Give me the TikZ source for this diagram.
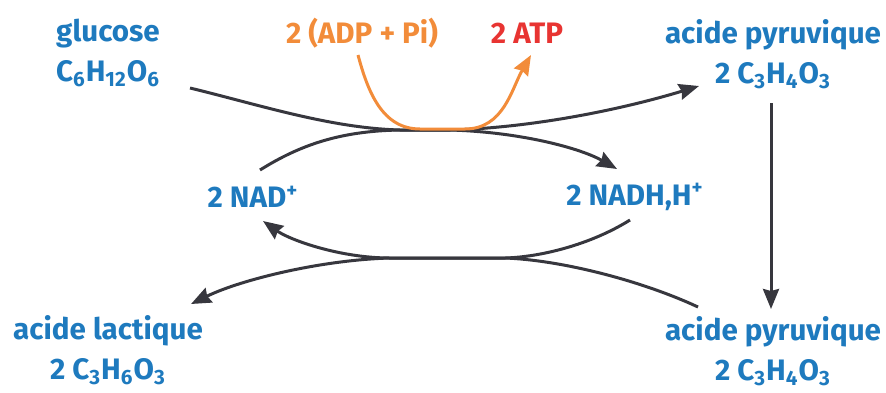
\documentclass[tikz,border=0pt]{standalone}
\usepackage{fontspec}
\setmainfont{Fira Sans}
\usetikzlibrary{arrows.meta}

\definecolor{molblue}{RGB}{30,122,190}
\definecolor{adporange}{RGB}{242,140,58}
\definecolor{atpred}{RGB}{232,52,50}
\definecolor{flowgrey}{RGB}{55,55,62}

\newcommand{\chemsub}[1]{\textsubscript{#1}}
\newcommand{\chemsup}[1]{\textsuperscript{#1}}

\tikzset{
  mol/.style={text=molblue, font=\bfseries\fontsize{14.8}{20}\selectfont, align=center, inner sep=1pt},
  energy/.style={font=\bfseries\fontsize{14.8}{20}\selectfont, inner sep=1pt},
  flow/.style={draw=flowgrey, line width=1.5pt, -{Stealth[length=10pt,width=8pt,inset=1pt]}},
  atpflow/.style={draw=adporange, line width=1.5pt, -{Stealth[length=10pt,width=8pt,inset=1pt]}}
}

\begin{document}
\begin{tikzpicture}[x=0.5pt, y=-0.5pt]
        \useasboundingbox (0,0) rectangle (886,392);

        \node[mol] (glc) at (108,53) {glucose\\C\chemsub{6}H\chemsub{12}O\chemsub{6}};
        \node[energy, text=adporange] (adp) at (362,33) {2 (ADP + Pi)};
        \node[energy, text=atpred] (atp) at (527,33) {2 ATP};
        \node[mol] (pyr1) at (773,54) {acide pyruvique\\2 C\chemsub{3}H\chemsub{4}O\chemsub{3}};
        \node[mol] (nad) at (253,197) {2 NAD\chemsup{+}};
        \node[mol] (nadh) at (635,197) {2 NADH,H\chemsup{+}};
        \node[mol] (lac) at (108,350) {acide lactique\\2 C\chemsub{3}H\chemsub{6}O\chemsub{3}};
        \node[mol] (pyr2) at (773,351) {acide pyruvique\\2 C\chemsub{3}H\chemsub{4}O\chemsub{3}};

        % meeting points of the crossed arrows
        \coordinate (up1) at (400,130);
        \coordinate (up2) at (450,130);
        \coordinate (lo1) at (505,258);
        \coordinate (lo2) at (390,258);

        \draw[flow] ([shift={(82,35)}]glc.center) .. controls (260,105) and (330,128) .. (up1) -- (up2)
            .. controls (530,128) and (620,110) .. ([shift={(-74,32)}]pyr1.center);
        \draw[flow] ([shift={(7,-27)}]nad.center) .. controls (300,145) and (340,131) .. (up1) -- (up2)
            .. controls (520,132) and (580,148) .. ([shift={(-18,-28)}]nadh.center);
        \draw[atpflow] ([shift={(-4,22)}]adp.center) to[out=-75,in=180] (420,129) -- (465,129)
            to[out=0,in=240] ([shift={(4,22)}]atp.center);

        \draw[flow] ([shift={(-2,49)}]pyr1.center) -- ([shift={(-2,-42)}]pyr2.center);

        \draw[flow] ([shift={(-5,23)}]nadh.center) .. controls (590,245) and (540,257) .. (lo1) -- (lo2)
            .. controls (340,258) and (290,240) .. ([shift={(10,24)}]nad.center);
        \draw[flow] ([shift={(-75,-44)}]pyr2.center) .. controls (640,280) and (560,260) .. (lo1) -- (lo2)
            .. controls (320,260) and (240,280) .. ([shift={(83,-46)}]lac.center);
    \end{tikzpicture}
\end{document}
